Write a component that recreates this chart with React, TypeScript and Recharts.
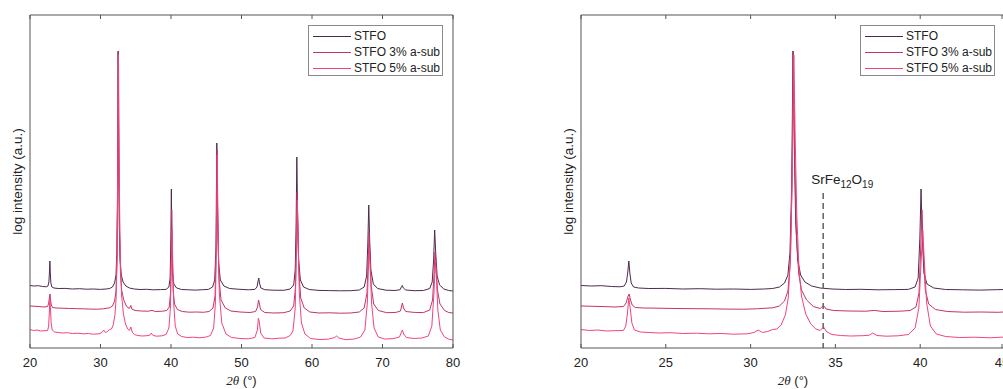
import React from 'react';
import { LineChart, Line, XAxis, YAxis, ReferenceLine, Legend } from 'recharts';

// XRD patterns, log intensity (arbitrary units, curves stacked with an offset)
const stfo: number[][] = [
  [20, 62.5], [20.6, 62], [21.2, 62.3], [21.8, 61.5], [22.3, 61.2], [22.55, 62], [22.68, 66], [22.76, 76], [22.82, 87],
  [22.88, 75], [22.96, 65], [23.1, 61], [23.4, 60], [24, 59.5], [25, 59.6], [26, 59], [27, 59.3], [28, 58.8], [29, 59],
  [30, 58.6], [30.8, 59], [31.3, 59.5], [31.7, 61], [32.0, 65], [32.2, 73], [32.32, 95], [32.42, 160], [32.5, 297],
  [32.58, 200], [32.66, 125], [32.78, 88], [32.95, 73], [33.2, 66], [33.6, 62], [34.1, 60], [34.8, 59], [35.6, 58.5],
  [36.5, 58.7], [37.5, 58.2], [38.5, 58.4], [39.3, 58.6], [39.7, 61], [39.88, 70], [39.98, 110], [40.05, 159],
  [40.12, 112], [40.22, 75], [40.4, 64], [40.8, 60], [41.5, 58.5], [42.5, 58.2], [43.5, 57.9], [44.5, 58.3],
  [45.3, 58.6], [45.9, 61], [46.2, 68], [46.38, 100], [46.5, 205], [46.6, 140], [46.75, 85], [47.0, 68], [47.5, 62],
  [48.3, 59.5], [49.5, 58.8], [51, 58.2], [51.9, 58.6], [52.2, 61], [52.38, 68], [52.45, 70], [52.55, 65], [52.75, 60],
  [53.3, 58.3], [54.5, 57.8], [56, 57.7], [56.9, 59], [57.4, 63], [57.62, 78], [57.75, 125], [57.85, 191], [57.95, 135],
  [58.1, 88], [58.35, 68], [58.8, 61], [59.6, 58.5], [61, 57.6], [62.5, 57.4], [64, 57.2], [65.5, 57.3], [66.7, 58],
  [67.4, 61], [67.75, 72], [67.92, 105], [68.05, 143], [68.18, 108], [68.35, 78], [68.7, 64], [69.3, 59.5], [70.5, 57.8],
  [71.8, 57.5], [72.5, 58.3], [72.7, 61.5], [72.8, 62.5], [72.95, 60], [73.3, 58], [74.5, 57.3], [75.8, 57.5],
  [76.7, 59.5], [77.05, 66], [77.25, 88], [77.4, 118], [77.55, 95], [77.75, 72], [78.1, 63], [78.7, 59], [79.4, 57.5],
  [80, 57],
];

const stfo3: number[][] = [
  [20, 42], [20.7, 41.7], [21.4, 41.4], [22, 41], [22.5, 41.5], [22.66, 45], [22.76, 51], [22.84, 54], [22.92, 48],
  [23.02, 43], [23.2, 40.5], [23.7, 40], [24.6, 39.8], [25.6, 39.5], [26.6, 39.3], [27.6, 39.2], [28.6, 38.9],
  [29.6, 38.8], [30.4, 39.2], [30.9, 39.8], [31.3, 40.2], [31.7, 42], [32.0, 47], [32.2, 57], [32.34, 85], [32.44, 160],
  [32.52, 296], [32.6, 190], [32.7, 115], [32.83, 75], [33.0, 58], [33.3, 48], [33.7, 41.5], [34.1, 39.5], [34.3, 42.5],
  [34.45, 39], [34.9, 37.5], [35.8, 37], [36.8, 36.8], [37.3, 37.6], [37.8, 36.5], [38.8, 36.8], [39.4, 37.5],
  [39.75, 41], [39.93, 55], [40.03, 100], [40.1, 138], [40.18, 98], [40.3, 58], [40.5, 44], [40.9, 38.5], [41.6, 36.5],
  [42.6, 35.8], [43.6, 36], [44.6, 35.7], [45.4, 36.5], [45.95, 40], [46.25, 52], [46.42, 105], [46.53, 198],
  [46.64, 125], [46.8, 70], [47.1, 48], [47.7, 40], [48.5, 37], [49.8, 36], [51.2, 35.5], [52.0, 36.5], [52.28, 41],
  [52.42, 48], [52.52, 45], [52.7, 38.5], [53.3, 35.5], [54.6, 35], [56, 35.3], [56.9, 37], [57.4, 42], [57.65, 60],
  [57.8, 110], [57.9, 156], [58.0, 118], [58.15, 75], [58.4, 50], [58.9, 40], [59.7, 36], [61, 35], [62.5, 35.2],
  [64, 34.8], [65.5, 35], [66.7, 36], [67.4, 40], [67.8, 55], [67.98, 90], [68.1, 116], [68.22, 92], [68.4, 62],
  [68.75, 44], [69.4, 37.5], [70.6, 35.3], [71.9, 35.6], [72.55, 37], [72.72, 42], [72.82, 45], [72.98, 40],
  [73.3, 36.5], [74.5, 35.6], [75.8, 35.4], [76.7, 38], [77.1, 48], [77.3, 72], [77.45, 96], [77.6, 80], [77.8, 58],
  [78.15, 44], [78.8, 37.5], [79.4, 35.5], [80, 35],
];

const stfo5: number[][] = [
  [20, 18.5], [20.5, 17.5], [21, 18], [21.5, 17], [22, 17.3], [22.5, 17.5], [22.64, 22], [22.74, 35], [22.82, 50],
  [22.9, 40], [23.0, 25], [23.15, 18], [23.5, 16], [24, 15.5], [24.6, 15], [25.3, 15.3], [26, 14.5], [26.8, 14.8],
  [27.5, 14.2], [28.3, 14.5], [29, 13.8], [29.8, 14.2], [30.2, 15.5], [30.45, 18], [30.7, 15.5], [31.0, 16.5],
  [31.3, 18.5], [31.55, 19], [31.8, 23], [32.05, 33], [32.22, 50], [32.36, 95], [32.46, 180], [32.55, 293],
  [32.63, 210], [32.72, 135], [32.85, 80], [33.0, 52], [33.25, 34], [33.55, 24], [33.85, 19], [34.1, 17.5], [34.3, 21],
  [34.5, 16], [34.8, 13.5], [35.3, 12.5], [35.9, 12], [36.6, 12.3], [37.0, 12.8], [37.2, 15], [37.45, 12.5], [38, 11.8],
  [38.7, 12.2], [39.3, 13.5], [39.7, 20], [39.92, 40], [40.05, 85], [40.15, 118], [40.25, 85], [40.38, 45], [40.6, 22],
  [40.95, 14], [41.5, 11.5], [42.3, 10.5], [43.2, 10.8], [44.1, 10.2], [45, 11], [45.6, 12.5], [46.05, 20], [46.3, 45],
  [46.46, 110], [46.56, 193], [46.67, 120], [46.85, 55], [47.2, 25], [47.8, 14], [48.6, 10.5], [49.8, 9.5], [51, 9.2],
  [51.9, 10.5], [52.25, 18], [52.4, 30], [52.52, 26], [52.72, 15], [53.2, 10], [54.3, 9.2], [55.3, 9.8], [56.2, 10],
  [56.9, 12.5], [57.3, 17], [57.62, 40], [57.8, 100], [57.92, 148], [58.04, 105], [58.2, 55], [58.5, 25], [59, 14],
  [59.8, 9.5], [61, 8.5], [62.3, 8.8], [63.2, 10.5], [63.5, 12], [63.8, 10], [64.8, 8.3], [66, 9], [66.9, 11],
  [67.5, 18], [67.85, 45], [68.02, 85], [68.12, 101], [68.25, 80], [68.45, 45], [68.8, 20], [69.4, 11], [70.3, 9],
  [71.5, 9.3], [72.4, 11], [72.7, 16], [72.82, 18], [73.0, 14], [73.4, 10.5], [74.5, 9.5], [75.6, 10], [76.5, 12],
  [77.0, 22], [77.3, 55], [77.5, 88], [77.65, 70], [77.85, 38], [78.2, 18], [78.8, 11], [79.4, 8.8], [80, 8],
];

const seriesNames = ['STFO', 'STFO 3% a-sub', 'STFO 5% a-sub'];
const seriesColors = ['#4e2a4c', '#c3336c', '#f0457c'];
const seriesData = [stfo, stfo3, stfo5];

const leftTicks = [20, 30, 40, 50, 60, 70, 80];
const rightTicks = [20, 25, 30, 35, 40, 45];
const secondPhaseAngle = 34.28; // SrFe12O19 reflection
const markerTop = 155;

const FONT = '"Liberation Sans", Arial, sans-serif';
const AXIS = '#555';
const PLOT_TOP = 15;

const toPoints = (arr: number[][]) => arr.map(([x, y]) => ({ x, y }));

const BottomTick = (props: any) => {
  const { x, y, payload } = props;
  return (
    <g>
      <line x1={x} x2={x} y1={y} y2={y - 4} stroke={AXIS} />
      <line x1={x} x2={x} y1={PLOT_TOP} y2={PLOT_TOP + 4} stroke={AXIS} />
      <text x={x} y={y + 19} textAnchor="middle" fontSize={13} fontFamily={FONT} fill="#222">
        {payload.value}
      </text>
    </g>
  );
};

const XTitle = (props: any) => {
  const vb = props.viewBox || {};
  return (
    <text x={vb.x + vb.width / 2} y={vb.y + 37} textAnchor="middle" fontSize={13} fontFamily={FONT} fill="#222">
      <tspan fontStyle="italic" fontFamily='"Liberation Serif", serif'>2θ</tspan>
      <tspan> (°)</tspan>
    </text>
  );
};

const YTitle = (props: any) => {
  const vb = props.viewBox || {};
  const cx = vb.x + vb.width - 13;
  const cy = vb.y + vb.height / 2;
  return (
    <text x={cx} y={cy} transform={`rotate(-90, ${cx}, ${cy})`} textAnchor="middle" dominantBaseline="central"
      fontSize={13.5} fontFamily={FONT} fill="#222">
      log intensity (a.u.)
    </text>
  );
};

const PhaseLabel = (props: any) => {
  const vb = props.viewBox || {};
  return (
    <text x={vb.x - 12} y={vb.y - 9} fontSize={13.5} fontFamily={FONT} fill="#222">
      SrFe<tspan fontSize={10} dy={4}>12</tspan><tspan dy={-4}>O</tspan><tspan fontSize={10} dy={4}>19</tspan>
    </text>
  );
};

const LegendBox = () => (
  <div style={{ border: '1px solid #8a8a8a', background: '#fff', width: 133, height: 49, fontFamily: FONT, fontSize: 12, color: '#222' }}>
    {seriesNames.map((n, i) => (
      <div key={n} style={{ display: 'flex', alignItems: 'center', height: 16, marginTop: i === 0 ? 2 : 0 }}>
        <div style={{ width: 38, height: 0, borderTop: `1px solid ${seriesColors[i]}`, marginLeft: 4, marginRight: 3 }} />
        <span style={{ lineHeight: '16px' }}>{n}</span>
      </div>
    ))}
  </div>
);

interface PanelProps {
  domain: [number, number];
  ticks: number[];
  margin: { top: number; right: number; bottom: number; left: number };
  legendLeft: number;
  marker?: boolean;
}

function Panel({ domain, ticks, margin, legendLeft, marker }: PanelProps) {
  return (
    <LineChart width={470} height={389} margin={margin}>
      <XAxis type="number" dataKey="x" domain={domain} ticks={ticks} allowDataOverflow
        stroke={AXIS} tickLine={false} tickSize={0} tickMargin={0} height={1}
        tick={<BottomTick />} label={<XTitle />} />
      <XAxis xAxisId="top" orientation="top" type="number" domain={domain} ticks={ticks}
        stroke={AXIS} tick={false} tickLine={false} height={1} />
      <YAxis type="number" domain={[0, 333]} allowDataOverflow stroke={AXIS} tick={false} tickLine={false}
        width={1} label={<YTitle />} />
      <YAxis yAxisId="r" orientation="right" type="number" domain={[0, 333]} stroke={AXIS}
        tick={false} tickLine={false} width={1} />
      {seriesData.map((d, i) => (
        <Line key={seriesNames[i]} data={toPoints(d)} dataKey="y" name={seriesNames[i]} type="linear"
          stroke={seriesColors[i]} strokeWidth={1} dot={false} activeDot={false} isAnimationActive={false} />
      ))}
      {marker && (
        <ReferenceLine
          segment={[{ x: secondPhaseAngle, y: markerTop }, { x: secondPhaseAngle, y: 0 }]}
          stroke="#6a6a6a" strokeWidth={1.6} strokeDasharray="6 4" label={<PhaseLabel />} />
      )}
      <Legend layout="vertical" align="center" verticalAlign="middle" content={() => <LegendBox />}
        wrapperStyle={{ position: 'absolute', left: legendLeft, top: 25, width: 'auto', height: 'auto' }} />
    </LineChart>
  );
}

export default function App() {
  return (
    <div style={{ position: 'absolute', left: 0, top: 0, width: 1003, height: 389, overflow: 'hidden', background: '#fff' }}>
      <div style={{ position: 'absolute', left: 0, top: 0 }}>
        <Panel domain={[20, 80]} ticks={leftTicks} margin={{ top: PLOT_TOP - 1, right: 16, bottom: 40, left: 29 }} legendLeft={308} />
      </div>
      <div style={{ position: 'absolute', left: 540, top: 0 }}>
        <Panel domain={[20, 45]} ticks={rightTicks} margin={{ top: PLOT_TOP - 1, right: 4, bottom: 40, left: 40 }} legendLeft={320} marker />
      </div>
    </div>
  );
}
